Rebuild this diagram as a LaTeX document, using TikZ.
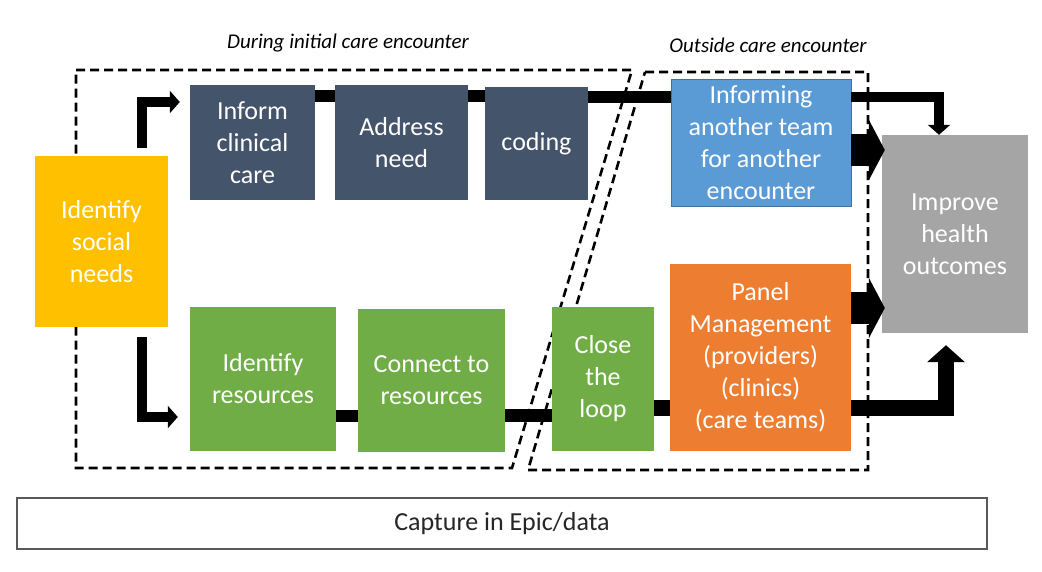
\documentclass[tikz,border=0pt]{standalone}
\usepackage{fontspec}
\setmainfont{Carlito}
\usetikzlibrary{arrows.meta}
\definecolor{slate}{HTML}{44546A}
\definecolor{gold}{HTML}{FFC000}
\definecolor{skyb}{HTML}{5B9BD5}
\definecolor{skybd}{HTML}{41719C}
\definecolor{greyb}{HTML}{A5A5A5}
\definecolor{leaf}{HTML}{70AD47}
\definecolor{orng}{HTML}{ED7D31}
\definecolor{ink}{HTML}{262626}
\tikzset{
  box/.style={rectangle, inner sep=0pt, align=center, text=white,
    font=\fontsize{26}{32}\selectfont},
  link/.style={line width=12pt, draw=black},
  elbow/.style={line width=10pt, draw=black, line join=miter,
    -{Triangle[width=22pt,length=10pt]}},
  fat/.style={line width=32pt, draw=black,
    -{Triangle[width=60pt,length=16pt]}},
  bigelbow/.style={line width=16pt, draw=black, line join=miter,
    -{Triangle[width=37pt,length=17pt]}},
  region/.style={draw=black, line width=2.6pt, dash pattern=on 9pt off 5pt},
  caption/.style={font=\fontsize{21}{24}\selectfont\itshape, text=black}
}
\begin{document}
\begin{tikzpicture}[x=1pt,y=-1pt]
\useasboundingbox (0,0) rectangle (1042,571);
\fill[white] (0,0) rectangle (1042,571);

% regions
\draw[region] (76,70) -- (632,70) -- (512,468) -- (76,468) -- cycle;
\draw[region] (645,72) -- (868,72) -- (868,470) -- (528,470) -- cycle;
\node[caption] (lab1) at (348,43) {During initial care encounter};
\node[caption] (lab2) at (768,45) {Outside care encounter};

% boxes
\node[box, fill=gold, minimum width=133pt, minimum height=171pt] (isn) at (101.5,241.5) {Identify\\social\\needs};
\node[box, fill=slate, minimum width=125pt, minimum height=115pt] (inform) at (252.5,142.5) {Inform\\clinical\\care};
\node[box, fill=slate, minimum width=133pt, minimum height=115pt] (addr) at (401.5,142.5) {Address\\need};
\node[box, fill=slate, minimum width=103pt, minimum height=113pt] (coding) at (536.5,143.5) {coding};
\node[box, fill=skyb, draw=skybd, line width=0.8pt, minimum width=180pt, minimum height=127pt] (informing) at (761,142.5) {Informing\\another team\\for another\\encounter};
\node[box, fill=greyb, minimum width=146pt, minimum height=198pt] (improve) at (955,234) {Improve\\health\\outcomes};
\node[box, fill=leaf, minimum width=146pt, minimum height=144pt] (idres) at (263,379) {Identify\\resources};
\node[box, fill=leaf, minimum width=147pt, minimum height=143pt] (connect) at (431.5,380.5) {Connect to\\resources};
\node[box, fill=leaf, minimum width=102pt, minimum height=144pt] (close) at (603,379) {Close\\the\\loop};
\node[box, fill=orng, minimum width=181pt, minimum height=187pt] (panel) at (760.5,357.5) {Panel\\Management\\(providers)\\(clinics)\\(care teams)};
\node[rectangle, draw=black!65, line width=1.5pt, fill=white, minimum width=970pt, minimum height=51pt, text=ink, font=\fontsize{26}{28}\selectfont] (capture) at (502,523.5) {Capture in Epic/data};

% top connectors
\draw[link] ([yshift=-11pt]inform.north east) -- ([yshift=-11pt]addr.north west);
\draw[link] ([yshift=-11pt]addr.north east) -- ([yshift=-11pt]addr.north east -| coding.west);
\coordinate (c1) at ([yshift=-10pt]coding.north east);
\draw[link] (c1) -- (c1 -| informing.west);
\draw[elbow] (c1 -| informing.east) -| ([xshift=-16pt]improve.north);
\coordinate (f1) at ([yshift=-7.5pt]informing.east);
\draw[fat] (f1) -- ([xshift=3pt]f1 -| improve.west);

% left elbows
\draw[elbow] ([xshift=40pt,yshift=8pt]isn.north) |- ([xshift=-10pt,yshift=40.5pt]inform.west);
\draw[elbow] ([xshift=40pt,yshift=-10pt]isn.south) |- ([xshift=-12pt,yshift=-38pt]idres.west);

% bottom connectors
\coordinate (b1) at ([yshift=-37pt]idres.east);
\draw[link] (b1) -- (b1 -| connect.west);
\coordinate (b2) at ([yshift=-34.5pt]connect.east);
\draw[link, line width=13pt] (b2) -- (b2 -| close.west);
\coordinate (b3) at ([yshift=-29pt]close.east);
\draw[link, line width=16pt] (b3) -- (b3 -| panel.west);
\draw[bigelbow] (b3 -| panel.east) -| ([xshift=-9pt,yshift=-12pt]improve.south);
\coordinate (f2) at ([yshift=49.5pt]panel.east);
\draw[fat] (f2) -- ([xshift=3pt]f2 -| improve.west);
\end{tikzpicture}
\end{document}
